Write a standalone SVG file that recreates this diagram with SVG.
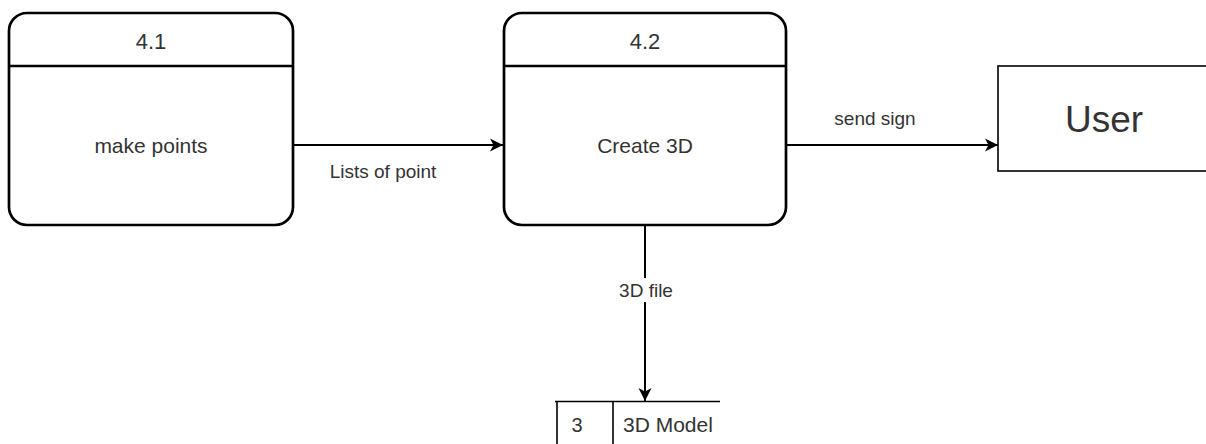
<svg xmlns="http://www.w3.org/2000/svg" width="1206" height="444" viewBox="0 0 1206 444">
  <style>
    .proc { fill: #ffffff; stroke: #000000; stroke-width: 2.7; }
    .sep { stroke: #000000; stroke-width: 2.7; fill: none; }
    .flow { stroke: #000000; stroke-width: 2; fill: none; }
    .ext { fill: #ffffff; stroke: #000000; stroke-width: 1.6; }
    .store { stroke: #000000; stroke-width: 1.6; fill: none; }
    text { font-family: "Liberation Sans", Arial, sans-serif; fill: #333333; }
    .mid { text-anchor: middle; }
  </style>
  <defs>
    <marker id="arrow" viewBox="0 0 14 14" refX="13" refY="7" markerWidth="14" markerHeight="14" markerUnits="userSpaceOnUse" orient="auto">
      <path d="M0,0.5 L13,7 L0,13.5 L3.5,7 Z" fill="#000000"/>
    </marker>
  </defs>
  <rect width="1206" height="444" fill="#ffffff"/>

  <!-- connectors -->
  <g id="connectors">
    <line class="flow" x1="293" y1="145" x2="503" y2="145" marker-end="url(#arrow)"/>
    <text x="383" y="178" font-size="19" class="mid">Lists of point</text>
    <line class="flow" x1="786" y1="145" x2="998" y2="145" marker-end="url(#arrow)"/>
    <text x="875" y="125" font-size="19" class="mid">send sign</text>
    <line class="flow" x1="645" y1="225" x2="645" y2="401" marker-end="url(#arrow)"/>
    <rect x="618" y="278" width="56" height="24" fill="#ffffff"/>
    <text x="646" y="297" font-size="19" class="mid">3D file</text>
  </g>

  <!-- process 4.1 -->
  <g id="process-4-1">
    <rect class="proc" x="9" y="13" width="284" height="212" rx="18" ry="18"/>
    <line class="sep" x1="9" y1="66" x2="293" y2="66"/>
    <text x="151" y="49" font-size="22" class="mid">4.1</text>
    <text x="151" y="153" font-size="21" class="mid">make points</text>
  </g>

  <!-- process 4.2 -->
  <g id="process-4-2">
    <rect class="proc" x="504" y="13" width="282" height="212" rx="18" ry="18"/>
    <line class="sep" x1="504" y1="66" x2="786" y2="66"/>
    <text x="645" y="49" font-size="22" class="mid">4.2</text>
    <text x="645" y="153" font-size="21" class="mid">Create 3D</text>
  </g>

  <!-- external entity -->
  <g id="user">
    <rect class="ext" x="998" y="66" width="214" height="105"/>
    <text x="1104" y="132" font-size="37" class="mid">User</text>
  </g>

  <!-- data store 3 -->
  <g id="store-3">
    <line class="store" x1="555" y1="401.5" x2="720" y2="401.5"/>
    <line class="store" x1="557" y1="401.5" x2="557" y2="446"/>
    <line class="store" x1="613" y1="401.5" x2="613" y2="446"/>
    <text x="577" y="432" font-size="20" class="mid">3</text>
    <text x="623" y="432" font-size="21">3D Model</text>
  </g>
</svg>
